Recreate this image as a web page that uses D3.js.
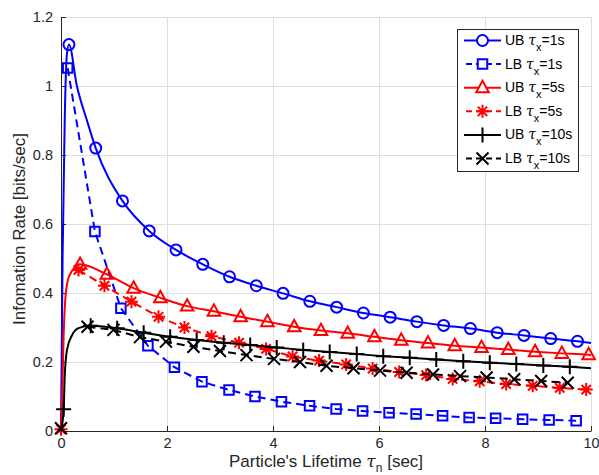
<!DOCTYPE html>
<html>
<head>
<meta charset="utf-8">
<script src="https://cdn.jsdelivr.net/npm/d3@7"></script>
<style>
  body { margin: 0; background: #fff; }
  svg { font-family: "Liberation Sans", Arial, Helvetica, sans-serif; }
</style>
</head>
<body>
<svg id="chart" width="599" height="475"></svg>
<script>
// ---------------- data ----------------
const xTicks = [0, 2, 4, 6, 8, 10];
const yTicks = [0, 0.2, 0.4, 0.6, 0.8, 1, 1.2];

// UB tau_x = 1s (solid, circles)
const ub1MarkX = [0.15, 0.655, 1.16, 1.665, 2.17, 2.675, 3.18, 3.685, 4.19, 4.695, 5.2, 5.705, 6.21, 6.715, 7.22, 7.725, 8.23, 8.735, 9.24, 9.745];
const ub1MarkY = [1.12, 0.82, 0.667, 0.58, 0.525, 0.483, 0.447, 0.421, 0.399, 0.376, 0.359, 0.342, 0.330, 0.317, 0.306, 0.297, 0.285, 0.277, 0.268, 0.260];
const ub1ExtraX = [0, 0.03, 0.07, 0.11, 0.3, 0.49, 10];
const ub1ExtraY = [0, 0.5, 0.9, 1.09, 1.0, 0.9, 0.255];

// LB tau_x = 1s (dashed, squares)
const lb1X = [0.126, 0.64, 1.13, 1.64, 2.14, 2.66, 3.17, 3.66, 4.16, 4.69, 5.19, 5.69, 6.19, 6.7, 7.2, 7.7, 8.2, 8.71, 9.21, 9.72];
const lb1Y = [1.052, 0.578, 0.356, 0.247, 0.185, 0.143, 0.119, 0.1, 0.085, 0.073, 0.064, 0.058, 0.053, 0.049, 0.044, 0.039, 0.037, 0.034, 0.032, 0.030];

// UB tau_x = 5s (solid, triangles)
const ub5MarkX = [0.36, 0.865, 1.37, 1.875, 2.38, 2.885, 3.39, 3.895, 4.4, 4.905, 5.41, 5.915, 6.42, 6.925, 7.43, 7.935, 8.44, 8.945, 9.45, 9.955];
const ub5MarkY = [0.483, 0.454, 0.414, 0.386, 0.362, 0.347, 0.331, 0.317, 0.302, 0.291, 0.283, 0.273, 0.263, 0.255, 0.247, 0.242, 0.236, 0.230, 0.225, 0.221];
const ub5ExtraX = [0, 0.03, 0.05, 0.08, 0.12, 0.18, 0.25, 10];
const ub5ExtraY = [0, 0.15, 0.28, 0.38, 0.43, 0.457, 0.472, 0.219];

// LB tau_x = 5s (dashed, asterisks)
const lb5X = [0, 0.33, 0.82, 1.33, 1.84, 2.33, 2.84, 3.36, 3.87, 4.37, 4.87, 5.38, 5.88, 6.38, 6.89, 7.39, 7.9, 8.4, 8.9, 9.41, 9.91];
const lb5Y = [0.005, 0.467, 0.421, 0.375, 0.331, 0.300, 0.275, 0.256, 0.238, 0.216, 0.204, 0.193, 0.181, 0.171, 0.162, 0.151, 0.144, 0.136, 0.131, 0.125, 0.120];

// UB tau_x = 10s (solid, plus)
const ub10MarkX = [0.05, 0.56, 1.06, 1.56, 2.06, 2.56, 3.07, 3.57, 4.07, 4.57, 5.07, 5.58, 6.08, 6.58, 7.08, 7.59, 8.09, 8.59, 9.1, 9.6];
const ub10MarkY = [0.063, 0.305, 0.298, 0.285, 0.273, 0.264, 0.256, 0.249, 0.242, 0.235, 0.229, 0.223, 0.217, 0.212, 0.207, 0.202, 0.198, 0.194, 0.190, 0.186];
const ub10ExtraX = [0, 0.07, 0.113, 0.21, 0.33, 10];
const ub10ExtraY = [0, 0.157, 0.235, 0.278, 0.298, 0.182];

// LB tau_x = 10s (dashed, x)
const lb10X = [0, 0.5, 0.99, 1.49, 1.98, 2.5, 3.0, 3.5, 4.02, 4.51, 5.01, 5.52, 6.02, 6.52, 7.02, 7.53, 8.03, 8.55, 9.06, 9.56];
const lb10Y = [0.008, 0.302, 0.293, 0.272, 0.259, 0.244, 0.232, 0.220, 0.209, 0.200, 0.189, 0.182, 0.175, 0.169, 0.164, 0.159, 0.155, 0.150, 0.145, 0.140];

const legendLabels = [["UB", "1s"], ["LB", "1s"], ["UB", "5s"], ["LB", "5s"], ["UB", "10s"], ["LB", "10s"]];

// ---------------- layout ----------------
const M = { left: 61, right: 591, top: 17, bottom: 431 };
const svg = d3.select("#chart");
const x = d3.scaleLinear().domain([0, 10]).range([M.left, M.right]);
const y = d3.scaleLinear().domain([0, 1.2]).range([M.bottom, M.top]);
const axisCol = "#262626";

// grid
const grid = svg.append("g");
grid.selectAll(".gx").data(xTicks).join("line")
  .attr("x1", d => x(d)).attr("x2", d => x(d)).attr("y1", M.top).attr("y2", M.bottom)
  .attr("stroke", "#dfdfdf").attr("stroke-width", 1).attr("shape-rendering", "crispEdges");
grid.selectAll(".gy").data(yTicks).join("line")
  .attr("y1", d => y(d)).attr("y2", d => y(d)).attr("x1", M.left).attr("x2", M.right)
  .attr("stroke", "#dfdfdf").attr("stroke-width", 1).attr("shape-rendering", "crispEdges");

// axes
const fmt = d => d3.format("~g")(d);
const xAxis = d3.axisBottom(x).tickValues(xTicks).tickFormat(fmt).tickSizeInner(-5).tickSizeOuter(0).tickPadding(7);
const yAxis = d3.axisLeft(y).tickValues(yTicks).tickFormat(fmt).tickSizeInner(-5).tickSizeOuter(0).tickPadding(8);
const gx = svg.append("g").attr("transform", `translate(0,${M.bottom})`).call(xAxis);
const gy = svg.append("g").attr("transform", `translate(${M.left},0)`).call(yAxis);
[gx, gy].forEach(g => {
  g.select(".domain").attr("stroke", axisCol).attr("stroke-width", 1);
  g.selectAll(".tick line").attr("stroke", axisCol);
  g.selectAll(".tick text").attr("fill", axisCol).attr("font-size", 14.5)
    .attr("font-family", "'Liberation Sans', Arial, sans-serif");
});

// axis labels
const xl = svg.append("text").attr("x", (M.left + M.right) / 2).attr("y", 467)
  .attr("text-anchor", "middle").attr("font-size", 17).attr("fill", axisCol);
xl.append("tspan").text("Particle's Lifetime ");
xl.append("tspan").attr("font-style", "italic").attr("font-family", "'DejaVu Serif', serif").text("τ");
xl.append("tspan").attr("font-size", 12).attr("dy", 5).text("n");
xl.append("tspan").attr("dy", -5).text(" [sec]");

svg.append("text").attr("transform", `translate(25,${(M.top + M.bottom) / 2 + 5}) rotate(-90)`)
  .attr("text-anchor", "middle").attr("font-size", 17).attr("fill", axisCol)
  .text("Infomation Rate [bits/sec]");

// ---------------- series ----------------
const zip = (xs, ys) => xs.map((v, i) => [v, ys[i]]);
const plot = svg.append("g");
const smooth = d3.line().x(d => x(d[0])).y(d => y(d[1])).curve(d3.curveMonotoneX);
const straight = d3.line().x(d => x(d[0])).y(d => y(d[1]));

function markerPath(type, s) {
  const h = s / 2;
  switch (type) {
    case "circle": return d3.symbol(d3.symbolCircle, Math.PI * h * h)();
    case "square": return `M${-h},${-h}H${h}V${h}H${-h}Z`;
    case "triangle": return `M0,${-h * 1.15}L${h * 1.05},${h * 0.75}L${-h * 1.05},${h * 0.75}Z`;
    case "plus": return `M${-h},0H${h}M0,${-h}V${h}`;
    case "x": return `M${-h},${-h}L${h},${h}M${-h},${h}L${h},${-h}`;
    case "star": {
      const a = h * 0.72;
      return `M${-h},0H${h}M0,${-h}V${h}M${-a},${-a}L${a},${a}M${-a},${a}L${a},${-a}`;
    }
  }
}
const markerSize = { circle: 11, square: 9.5, triangle: 12, plus: 15, x: 12, star: 13 };

const series = [
  { line: zip(ub1ExtraX.concat(ub1MarkX), ub1ExtraY.concat(ub1MarkY)), marks: zip(ub1MarkX, ub1MarkY), color: "#0000ff", dash: null, marker: "circle", smooth: true },
  { line: zip(lb1X, lb1Y), marks: zip(lb1X, lb1Y), color: "#0000ff", dash: "8,5", marker: "square", smooth: false },
  { line: zip(ub5ExtraX.concat(ub5MarkX), ub5ExtraY.concat(ub5MarkY)), marks: zip(ub5MarkX, ub5MarkY), color: "#ff0000", dash: null, marker: "triangle", smooth: true },
  { line: zip(lb5X, lb5Y), marks: zip(lb5X, lb5Y), color: "#ff0000", dash: "8,5", marker: "star", smooth: false },
  { line: zip(ub10ExtraX.concat(ub10MarkX), ub10ExtraY.concat(ub10MarkY)), marks: zip(ub10MarkX, ub10MarkY), color: "#000000", dash: null, marker: "plus", smooth: true },
  { line: zip(lb10X, lb10Y), marks: zip(lb10X, lb10Y), color: "#000000", dash: "8,5", marker: "x", smooth: false }
];

series.forEach(s => {
  const pts = s.line.slice().sort((a, b) => a[0] - b[0]);
  const linePts = s.smooth ? pts : pts.filter(p => p[0] > 0);
  plot.append("path")
    .attr("d", (s.smooth ? smooth : straight)(linePts))
    .attr("fill", "none").attr("stroke", s.color).attr("stroke-width", 2)
    .attr("stroke-dasharray", s.dash);
  plot.selectAll(null).data(s.marks).join("path")
    .attr("transform", d => `translate(${x(d[0])},${y(d[1])})`)
    .attr("d", markerPath(s.marker, markerSize[s.marker]))
    .attr("fill", "none").attr("stroke", s.color).attr("stroke-width", 2);
});

// ---------------- legend ----------------
const lg = svg.append("g");
const L = { x: 457, y: 29, w: 121, h: 142 };
lg.append("rect").attr("x", L.x + 0.5).attr("y", L.y + 0.5).attr("width", L.w).attr("height", L.h)
  .attr("fill", "#fff").attr("stroke", axisCol).attr("stroke-width", 1);
legendLabels.forEach((lab, i) => {
  const s = series[i];
  const cy = 40.5 + i * 23.6;
  const g = lg.append("g");
  g.append("line").attr("x1", 464).attr("x2", 501).attr("y1", cy).attr("y2", cy)
    .attr("stroke", s.color).attr("stroke-width", 2).attr("stroke-dasharray", s.dash ? "6,4" : null)
    .attr("stroke-dashoffset", s.dash ? -2 : null);
  g.append("path").attr("transform", `translate(482.5,${cy})`)
    .attr("d", markerPath(s.marker, markerSize[s.marker]))
    .attr("fill", "#fff").attr("stroke", s.color).attr("stroke-width", 2);
  const t = g.append("text").attr("x", 505).attr("y", cy + 4.5).attr("font-size", 14).attr("fill", "#000");
  t.append("tspan").text(lab[0] + " ");
  t.append("tspan").attr("font-style", "italic").attr("font-family", "'DejaVu Serif', serif").text("τ");
  t.append("tspan").attr("font-size", 11).attr("dy", 6).text("x");
  t.append("tspan").attr("dy", -6).text("=" + lab[1]);
});
</script>
</body>
</html>
